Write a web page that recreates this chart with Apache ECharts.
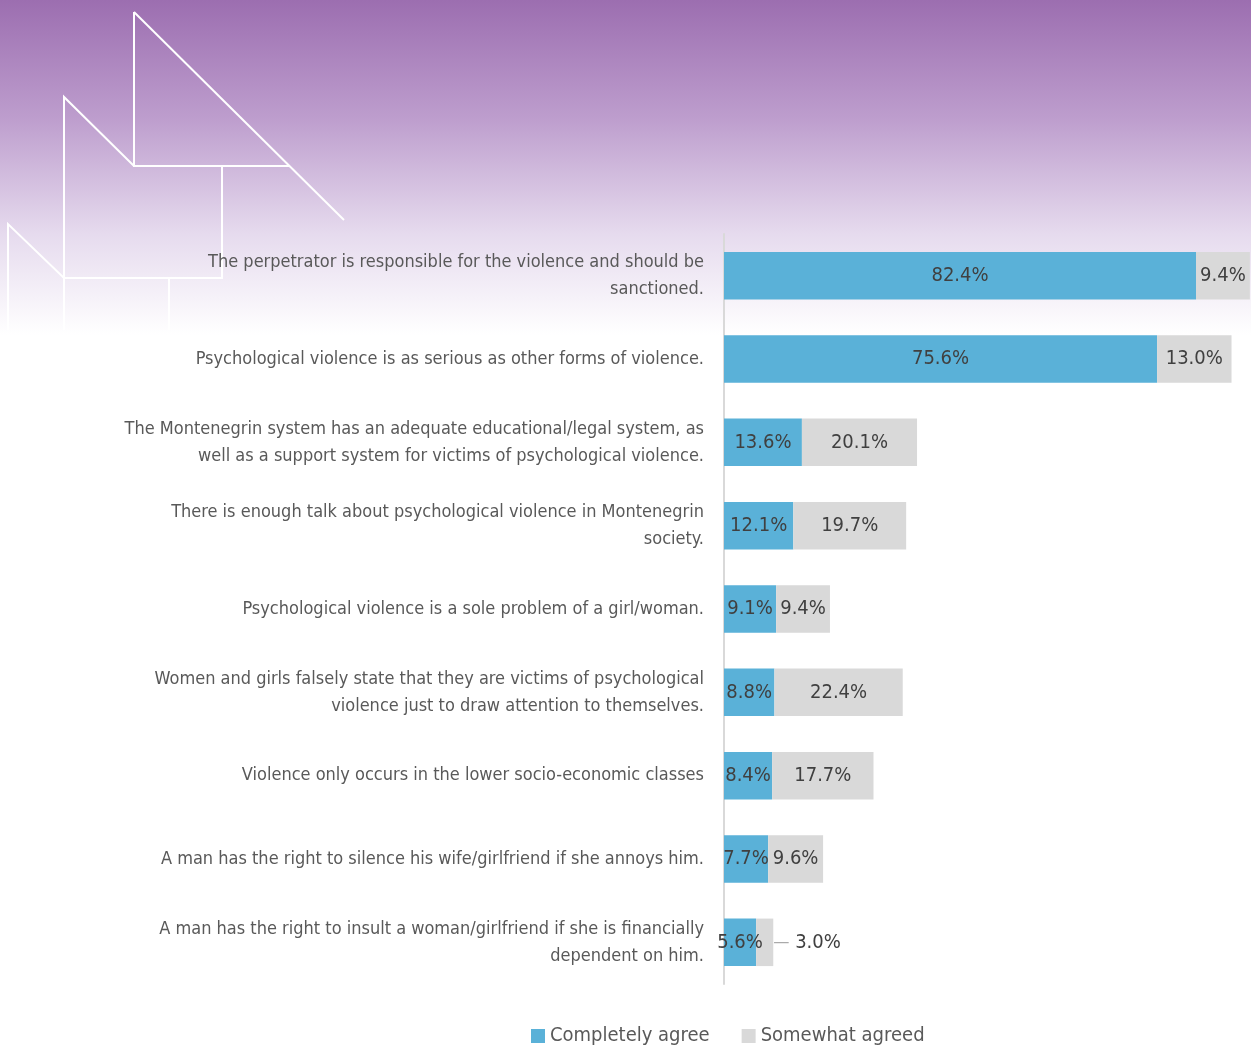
<!DOCTYPE html>
<html>
<head>
<meta charset="utf-8">
<script src="https://cdn.jsdelivr.net/npm/echarts@6/dist/echarts.min.js"></script>
<style>
  html, body { margin: 0; padding: 0; background: #ffffff; }
  #chart { width: 1251px; height: 1047px; }
</style>
</head>
<body>
<div id="chart"></div>
<script>
// Statements about psychological violence, top to bottom
const categories = [
  'The perpetrator is responsible for the violence and should be\nsanctioned.',
  'Psychological violence is as serious as other forms of violence.',
  'The Montenegrin system has an adequate educational/legal system, as\nwell as a support system for victims of psychological violence.',
  'There is enough talk about psychological violence in Montenegrin\nsociety.',
  'Psychological violence is a sole problem of a girl/woman.',
  'Women and girls falsely state that they are victims of psychological\nviolence just to draw attention to themselves.',
  'Violence only occurs in the lower socio-economic classes',
  'A man has the right to silence his wife/girlfriend if she annoys him.',
  'A man has the right to insult a woman/girlfriend if she is financially\ndependent on him.'
];
const completelyAgree = [82.4, 75.6, 13.6, 12.1, 9.1, 8.8, 8.4, 7.7, 5.6];
const somewhatAgreed = [9.4, 13.0, 20.1, 19.7, 9.4, 22.4, 17.7, 9.6, 3.0];
const seriesNames = ['Completely agree', 'Somewhat agreed'];

const FONT = '"DejaVu Sans Condensed", "DejaVu Sans", sans-serif';
const BLUE = '#5ab1d8';
const GREY = '#d9d9d9';

const chart = echarts.init(document.getElementById('chart'), null, { renderer: 'canvas' });

// Decorative outline shapes over the header gradient
const deco = [
  [[134, 12], [134, 166], [290, 166]],
  [[134, 12], [344, 220]],
  [[64, 330], [64, 97], [134, 166]],
  [[64, 278], [222, 278], [222, 166]],
  [[8, 330], [8, 224], [64, 278]],
  [[169, 278], [169, 330]]
];

const smallShare = somewhatAgreed.length - 1;
const pct = p => p.value.toFixed(1) + '%';

chart.setOption({
  backgroundColor: '#ffffff',
  textStyle: { fontFamily: FONT },
  graphic: [
    {
      type: 'rect',
      z: -10,
      silent: true,
      shape: { x: 0, y: 0, width: 1251, height: 335 },
      style: {
        fill: {
          type: 'linear', x: 0, y: 0, x2: 0, y2: 1,
          colorStops: [
            { offset: 0, color: '#9c6eb0' },
            { offset: 0.35, color: '#bd9dcd' },
            { offset: 0.7, color: '#e6dbee' },
            { offset: 1, color: '#ffffff' }
          ]
        }
      }
    },
    ...deco.map(pts => ({
      type: 'polyline',
      z: -9,
      silent: true,
      shape: { points: pts },
      style: { stroke: '#ffffff', lineWidth: 2, fill: null }
    }))
  ],
  legend: {
    data: seriesNames,
    left: 526,
    top: 1021,
    icon: 'rect',
    itemWidth: 14,
    itemHeight: 14,
    itemGap: 32,
    textStyle: { fontFamily: FONT, fontSize: 20, color: '#595959' }
  },
  grid: { left: 724, right: 0, top: 234, bottom: 63, containLabel: false },
  xAxis: {
    type: 'value',
    min: 0,
    max: 92,
    show: false
  },
  yAxis: {
    type: 'category',
    inverse: true,
    data: categories,
    axisTick: { show: false },
    axisLine: { show: true, lineStyle: { color: '#d9d9d9', width: 2 } },
    axisLabel: {
      margin: 20,
      align: 'right',
      fontFamily: FONT,
      fontSize: 18,
      lineHeight: 27,
      color: '#595959'
    }
  },
  series: [
    {
      name: seriesNames[0],
      type: 'bar',
      stack: 'total',
      barCategoryGap: '43%',
      itemStyle: { color: BLUE },
      label: {
        show: true,
        position: 'inside',
        fontFamily: FONT,
        fontSize: 20,
        color: '#404040',
        formatter: pct
      },
      data: completelyAgree
    },
    {
      name: seriesNames[1],
      type: 'bar',
      stack: 'total',
      itemStyle: { color: GREY },
      label: {
        show: true,
        position: 'inside',
        fontFamily: FONT,
        fontSize: 20,
        color: '#404040',
        formatter: pct
      },
      data: somewhatAgreed.map((v, i) => i === smallShare ? {
        value: v,
        label: {
          position: 'right',
          distance: 0,
          formatter: p => '{d|—} ' + pct(p),
          rich: { d: { color: '#aaaaaa', fontSize: 18, fontFamily: FONT } }
        }
      } : v)
    }
  ]
});
</script>
</body>
</html>
